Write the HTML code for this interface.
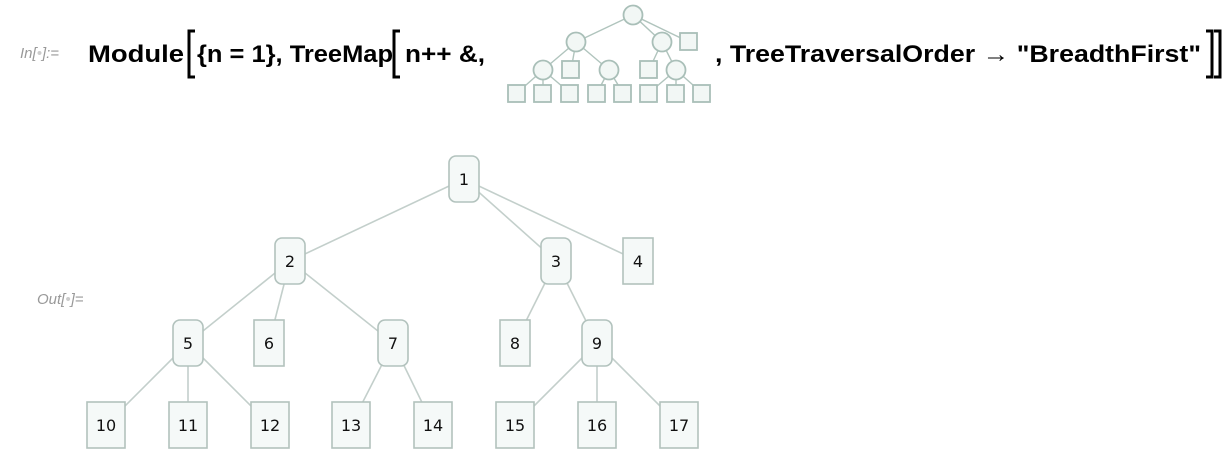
<!DOCTYPE html>
<html><head><meta charset="utf-8"><style>
html,body{margin:0;padding:0;background:#fff;}
svg{display:block;}
</style></head><body>
<svg width="1232" height="454" viewBox="0 0 1232 454" xmlns="http://www.w3.org/2000/svg">
<g font-family="Liberation Sans, sans-serif">
<text x="20" y="58" font-size="15" font-style="italic" fill="#999">In[<tspan fill="#ccc">•</tspan>]:=</text>
<text x="88" y="62" font-size="24" font-weight="bold" fill="#000" textLength="96" lengthAdjust="spacingAndGlyphs">Module</text>
<text x="197" y="62" font-size="24" font-weight="bold" textLength="196" lengthAdjust="spacingAndGlyphs">{n = 1}, TreeMap</text>
<text x="405" y="62" font-size="24" font-weight="bold" textLength="80" lengthAdjust="spacingAndGlyphs">n++ &amp;,</text>
<text x="715" y="62" font-size="24" font-weight="bold" textLength="486" lengthAdjust="spacingAndGlyphs">, TreeTraversalOrder → "BreadthFirst"</text>
</g>
<g stroke="#000" stroke-width="3" fill="none">
<path d="M195 31 H189 V77 H195"/>
<path d="M400 31 H394 V77 H400"/>
<path d="M1206 31 H1212 V77 H1206"/>
<path d="M1214 31 H1220 V77 H1214"/>
</g>
<g stroke="#b0c4bd" stroke-width="1.4">
<line x1="633" y1="15" x2="576" y2="42"/><line x1="633" y1="15" x2="662" y2="42"/><line x1="633" y1="15" x2="689" y2="42"/>
<line x1="576" y1="42" x2="543" y2="70"/><line x1="576" y1="42" x2="571" y2="70"/><line x1="576" y1="42" x2="609" y2="70"/>
<line x1="662" y1="42" x2="649" y2="70"/><line x1="662" y1="42" x2="676" y2="70"/>
<line x1="543" y1="70" x2="517" y2="93"/><line x1="543" y1="70" x2="543" y2="93"/><line x1="543" y1="70" x2="570" y2="93"/>
<line x1="609" y1="70" x2="597" y2="93"/><line x1="609" y1="70" x2="623" y2="93"/>
<line x1="676" y1="70" x2="649" y2="93"/><line x1="676" y1="70" x2="676" y2="93"/><line x1="676" y1="70" x2="702" y2="93"/>
</g>
<g fill="#f2f7f5" stroke="#a9bfb8" stroke-width="1.8">
<circle cx="633" cy="15" r="9.5"/><circle cx="576" cy="42" r="9.5"/><circle cx="662" cy="42" r="9.5"/>
<circle cx="543" cy="70" r="9.5"/><circle cx="609" cy="70" r="9.5"/><circle cx="676" cy="70" r="9.5"/>
<rect x="680" y="33" width="17" height="17"/><rect x="562" y="61" width="17" height="17"/><rect x="640" y="61" width="17" height="17"/>
<rect x="508" y="85" width="17" height="17"/><rect x="534" y="85" width="17" height="17"/><rect x="561" y="85" width="17" height="17"/><rect x="588" y="85" width="17" height="17"/><rect x="614" y="85" width="17" height="17"/><rect x="640" y="85" width="17" height="17"/><rect x="667" y="85" width="17" height="17"/><rect x="693" y="85" width="17" height="17"/>
</g>
<text x="37" y="304" font-family="Liberation Sans, sans-serif" font-size="15" font-style="italic" fill="#999">Out[<tspan fill="#ccc">•</tspan>]=</text>
<g stroke="#c3cfcb" stroke-width="1.6">
<line x1="464" y1="179" x2="290" y2="261"/><line x1="464" y1="179" x2="556" y2="261"/><line x1="464" y1="179" x2="638" y2="261"/>
<line x1="290" y1="261" x2="188" y2="343"/><line x1="290" y1="261" x2="269" y2="343"/><line x1="290" y1="261" x2="393" y2="343"/>
<line x1="556" y1="261" x2="515" y2="343"/><line x1="556" y1="261" x2="597" y2="343"/>
<line x1="188" y1="343" x2="106" y2="425"/><line x1="188" y1="343" x2="188" y2="425"/><line x1="188" y1="343" x2="270" y2="425"/>
<line x1="393" y1="343" x2="351" y2="425"/><line x1="393" y1="343" x2="433" y2="425"/>
<line x1="597" y1="343" x2="515" y2="425"/><line x1="597" y1="343" x2="597" y2="425"/><line x1="597" y1="343" x2="679" y2="425"/>
</g>
<g fill="#f5f9f8" stroke="#b2c2bd" stroke-width="1.6">
<rect x="449" y="156" width="30" height="46" rx="7"/>
<rect x="275" y="238" width="30" height="46" rx="7"/>
<rect x="541" y="238" width="30" height="46" rx="7"/>
<rect x="623" y="238" width="30" height="46"/>
<rect x="173" y="320" width="30" height="46" rx="7"/>
<rect x="254" y="320" width="30" height="46"/>
<rect x="378" y="320" width="30" height="46" rx="7"/>
<rect x="500" y="320" width="30" height="46"/>
<rect x="582" y="320" width="30" height="46" rx="7"/>
<rect x="87" y="402" width="38" height="46"/>
<rect x="169" y="402" width="38" height="46"/>
<rect x="251" y="402" width="38" height="46"/>
<rect x="332" y="402" width="38" height="46"/>
<rect x="414" y="402" width="38" height="46"/>
<rect x="496" y="402" width="38" height="46"/>
<rect x="578" y="402" width="38" height="46"/>
<rect x="660" y="402" width="38" height="46"/>
</g>
<g font-family="DejaVu Sans, sans-serif" font-size="16" fill="#111" text-anchor="middle">
<text x="464" y="185">1</text><text x="290" y="267">2</text><text x="556" y="267">3</text><text x="638" y="267">4</text>
<text x="188" y="349">5</text><text x="269" y="349">6</text><text x="393" y="349">7</text><text x="515" y="349">8</text><text x="597" y="349">9</text>
<text x="106" y="431">10</text><text x="188" y="431">11</text><text x="270" y="431">12</text><text x="351" y="431">13</text><text x="433" y="431">14</text><text x="515" y="431">15</text><text x="597" y="431">16</text><text x="679" y="431">17</text>
</g>
</svg>
</body></html>
